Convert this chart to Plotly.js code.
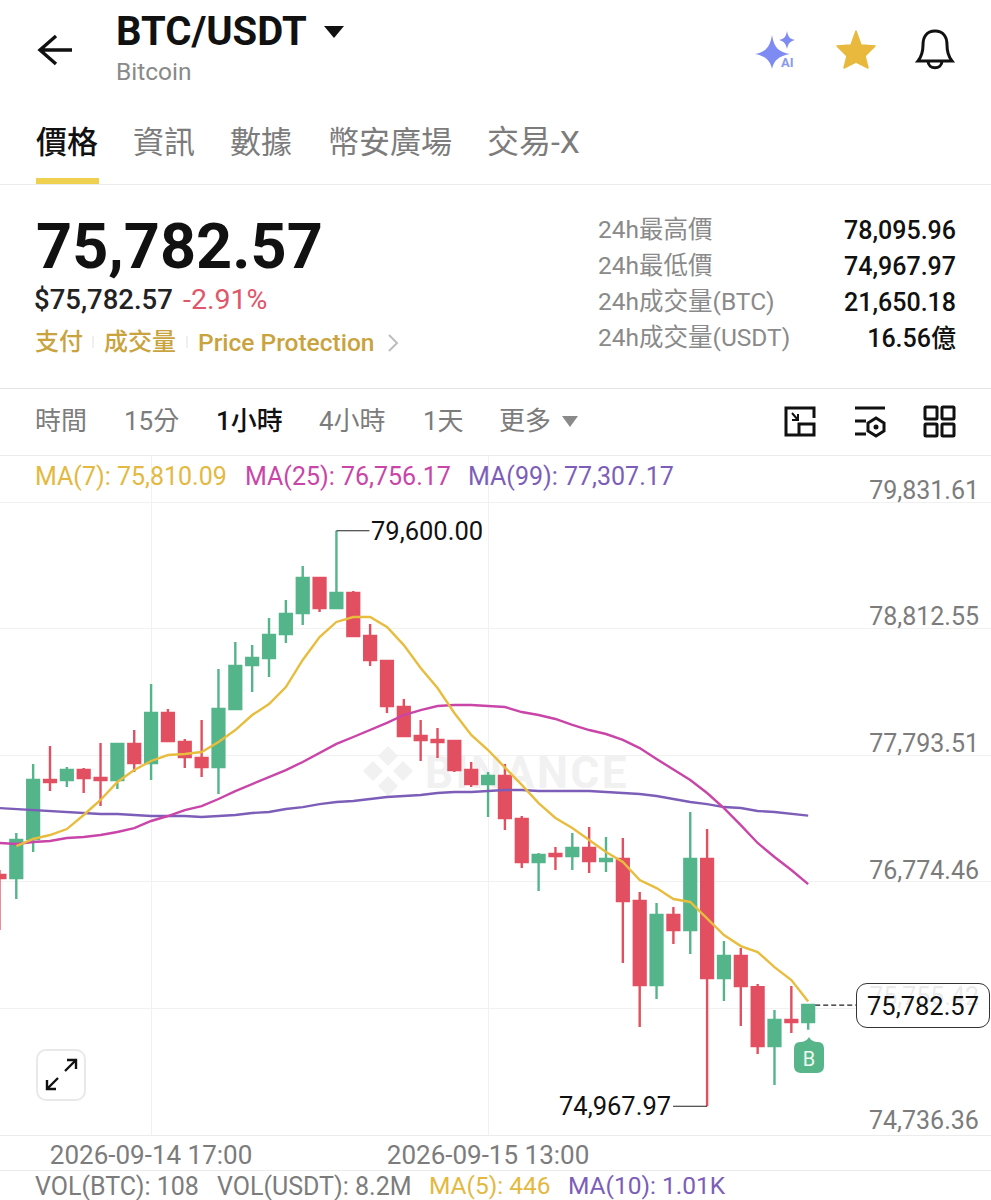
<!DOCTYPE html>
<html>
<head>
<meta charset="utf-8">
<script src="https://cdn.plot.ly/plotly-3.0.1.min.js"></script>
<style>
    html, body { margin: 0; padding: 0; background: #fff; }
    body { width: 991px; height: 1200px; position: relative; overflow: hidden;
           font-family: Roboto, "Noto Sans CJK TC", sans-serif; }
    #chart { position: absolute; left: 0; top: 0; width: 991px; height: 1200px; }
    .t { position: absolute; white-space: nowrap; transform: translateY(-50%); line-height: 1; }
    .rule { position: absolute; left: 0; width: 991px; height: 1px; background: #ececec; }
    svg.icon { position: absolute; overflow: visible; }
    #lastBox { position: absolute; left: 856px; top: 983px; width: 134px; height: 45px; box-sizing: border-box;
               border: 1.5px solid #333; border-radius: 11px; background: rgba(255,255,255,0.84);
               font-size: 25.5px; color: #111; text-align: center; line-height: 44px; }
    #watermark { position: absolute; left: 425px; top: 773px; transform: translateY(-50%);
                 font: bold 44px Roboto; letter-spacing: 2.5px; color: #f1f1f1; }
</style>
</head>
<body>
<svg class="icon" style="left:0;top:0" width="991" height="1200">
    <g fill="#f1f1f1" transform="translate(388,771)">
        <path d="M0,-25 L10,-15 L0,-5 L-10,-15 Z M-15,-10 L-5,0 L-15,10 L-25,0 Z M15,-10 L25,0 L15,10 L5,0 Z M0,5 L10,15 L0,25 L-10,15 Z"/>
    </g>
</svg>
<div id="watermark">BINANCE</div>
<div id="chart"></div>
<div id="lastBox">75,782.57</div>

<svg class="icon" style="left:0;top:0" width="991" height="1200">
    <!-- back arrow -->
    <path d="M72,50 H41 M56,36 L40,50 L56,64" fill="none" stroke="#111" stroke-width="3.4"/>
    <path d="M324,26 H344 L334,38 Z" fill="#111"/>
    <!-- AI sparkle -->
    <path d="M772,35 C774,48 779,52 790,54 C779,56 774,60 772,69 C770,60 765,56 755,54 C765,52 770,48 772,35 Z" fill="#7d8bf2"/>
    <path d="M787,31 C788,37 790,39 795,40 C790,41 788,44 787,49 C786,44 784,41 779,40 C784,39 786,37 787,31 Z" fill="#7d8bf2"/>
    <text x="781" y="67" font-family="Roboto" font-weight="700" font-size="13" fill="#8a98ee">AI</text>
    <!-- star -->
    <path d="M856,31 L861,45 L875,46 L865,56 L868,68 L856,62 L844,68 L847,56 L837,46 L851,45 Z" fill="#e8b93c" stroke="#e8b93c" stroke-width="1.5" stroke-linejoin="round"/>
    <!-- bell -->
    <path d="M935,31 C926,31 923,38 923,45 C923,52 922,56 918,61 H952 C948,56 947,52 947,45 C947,38 944,31 935,31 Z M928,61 C928,70 942,70 942,61" fill="none" stroke="#111" stroke-width="3"/>
    <!-- tab marker -->
    <rect x="36" y="178" width="63" height="6" fill="#f0d04f"/>
    <!-- separators, small arrow, triangle -->
    <path d="M93,336 V348 M187,336 V348" stroke="#ececec" stroke-width="1.5"/>
    <path d="M389,335 L397,343 L389,351" fill="none" stroke="#bdbdbd" stroke-width="2"/>
    <path d="M562,416 H578 L570,427 Z" fill="#8a8a8a"/>
    <!-- tool icons -->
    <g fill="none" stroke="#111" stroke-width="3">
        <path d="M800,408 H786 V435 H799 M800,408 H814 V418 M799,435 V424 H814 V435 H799"/>
        <path d="M792,413 L798,420 M798,414 V420 H792" stroke-width="2"/>
        <path d="M855,408 H885 M855,421 H866 M855,434 H866"/>
        <path d="M876,418 L884,423 V431 L876,436 L868,431 V423 Z"/>
        <rect x="925" y="407" width="12" height="12" rx="1"/>
        <rect x="942" y="407" width="12" height="12" rx="1"/>
        <rect x="925" y="424" width="12" height="12" rx="1"/>
        <rect x="942" y="424" width="12" height="12" rx="1"/>
    </g>
    <circle cx="876" cy="427" r="2.5" fill="#111"/>
    <!-- fullscreen button -->
    <rect x="37" y="1050" width="48" height="50" rx="9" fill="#fff" stroke="#e9e9e9" stroke-width="2"/>
    <path d="M76,1060 L47,1089 M67,1060 H76 V1069 M47,1080 V1089 H56" fill="none" stroke="#111" stroke-width="2.4"/>
    <path d="M58,1078 L65,1071" stroke="#fff" stroke-width="4"/>
    <!-- buy marker -->
    <path d="M809,1037 C811,1041 815,1042 818,1042 Q824,1042 824,1049 V1066 Q824,1073 817,1073 H801 Q794,1073 794,1066 V1049 Q794,1042 800,1042 C803,1042 807,1041 809,1037 Z" fill="#57b58a"/>
    <text x="809" y="1066" text-anchor="middle" font-family="Roboto" font-size="20" fill="#eefaf3">B</text>
</svg>

<div class="rule" style="top:184px"></div>
<div class="rule" style="top:388px;background:#e4e4e4"></div>
<div class="rule" style="top:455px"></div>
<div class="rule" style="top:1135px"></div>
<div class="rule" style="top:1170px"></div>

<script>
// 1h candles, 2026-09-14 08:00 to 2026-09-16 08:00
const times = [
    '2026-09-14 08:00', '2026-09-14 09:00', '2026-09-14 10:00', '2026-09-14 11:00', '2026-09-14 12:00',
    '2026-09-14 13:00', '2026-09-14 14:00', '2026-09-14 15:00', '2026-09-14 16:00', '2026-09-14 17:00',
    '2026-09-14 18:00', '2026-09-14 19:00', '2026-09-14 20:00', '2026-09-14 21:00', '2026-09-14 22:00',
    '2026-09-14 23:00', '2026-09-15 00:00', '2026-09-15 01:00', '2026-09-15 02:00', '2026-09-15 03:00',
    '2026-09-15 04:00', '2026-09-15 05:00', '2026-09-15 06:00', '2026-09-15 07:00', '2026-09-15 08:00',
    '2026-09-15 09:00', '2026-09-15 10:00', '2026-09-15 11:00', '2026-09-15 12:00', '2026-09-15 13:00',
    '2026-09-15 14:00', '2026-09-15 15:00', '2026-09-15 16:00', '2026-09-15 17:00', '2026-09-15 18:00',
    '2026-09-15 19:00', '2026-09-15 20:00', '2026-09-15 21:00', '2026-09-15 22:00', '2026-09-15 23:00',
    '2026-09-16 00:00', '2026-09-16 01:00', '2026-09-16 02:00', '2026-09-16 03:00', '2026-09-16 04:00',
    '2026-09-16 05:00', '2026-09-16 06:00', '2026-09-16 07:00', '2026-09-16 08:00'
];
const opens = [
    76829, 76805, 77119, 77594, 77594, 77674, 77610, 77594, 77884, 77731,
    78133, 77900, 77771, 77698, 78165, 78519, 78576, 78769, 78938, 79220,
    78978, 79099, 78753, 78552, 78181, 77948, 77916, 77908, 77674, 77562,
    77626, 77280, 76934, 76998, 76982, 77046, 76942, 76958, 76620, 75944,
    76507, 76386, 76958, 76000, 76177, 75927, 75452, 75662, 75646
];
const highs = [
    76869, 77167, 77722, 77867, 77698, 77690, 77892, 77884, 77996, 78367,
    78165, 77924, 78077, 78487, 78705, 78680, 78898, 79043, 79316, 79220,
    79600, 79115, 78849, 78560, 78246, 78077, 78012, 77908, 77739, 77658,
    77723, 77304, 77006, 77055, 77167, 77215, 77135, 77127, 76692, 76604,
    76572, 77336, 77199, 76297, 76241, 75952, 75742, 75935, 75790
];
const lows = [
    76386, 76636, 77014, 77505, 77537, 77489, 77384, 77521, 77658, 77594,
    77900, 77690, 77618, 77481, 78165, 78302, 78423, 78697, 78841, 78946,
    78978, 78745, 78511, 78133, 77940, 77747, 77771, 77658, 77537, 77296,
    77191, 76885, 76700, 76869, 76869, 76845, 76853, 76120, 75605, 75831,
    76273, 76193, 74967.97, 75815, 75613, 75388, 75138, 75557, 75584
];
const closes = [
    76805, 77111, 77594, 77578, 77674, 77610, 77594, 77884, 77731, 78133,
    77908, 77779, 77698, 78165, 78511, 78576, 78761, 78930, 79220, 78978,
    79099, 78753, 78560, 78189, 77948, 77916, 77900, 77674, 77562, 77626,
    77288, 76934, 76990, 76982, 77046, 76942, 76958, 76620, 75944, 76507,
    76386, 76958, 76000, 76177, 75935, 75452, 75662, 75646, 75782.57
];
const ma7 = [
    null, 77062, 77119, 77151, 77199, 77312, 77433, 77578, 77674, 77747,
    77795, 77803, 77819, 77900, 77996, 78117, 78205, 78342, 78560, 78745,
    78866, 78906, 78906, 78825, 78680, 78495, 78334, 78133, 77956, 77835,
    77698, 77554, 77408, 77288, 77207, 77111, 77014, 76934, 76789, 76724,
    76636, 76612, 76483, 76346, 76257, 76209, 76088, 75984, 75810.09
];
const ma25 = [
    77087, 77079, 77095, 77103, 77127, 77135, 77151, 77175, 77207, 77264,
    77304, 77352, 77384, 77441, 77505, 77562, 77618, 77674, 77739, 77811,
    77884, 77940, 77996, 78053, 78117, 78157, 78189, 78197, 78197, 78189,
    78181, 78141, 78117, 78085, 78037, 77996, 77964, 77916, 77851, 77763,
    77682, 77594, 77489, 77368, 77231, 77087, 76974, 76869, 76756.17
];
const ma99 = [
    77368, 77360, 77352, 77344, 77336, 77328, 77320, 77320, 77312, 77304,
    77304, 77304, 77296, 77304, 77312, 77328, 77336, 77360, 77376, 77400,
    77417, 77425, 77441, 77457, 77465, 77473, 77489, 77497, 77497, 77505,
    77513, 77513, 77505, 77505, 77505, 77505, 77497, 77489, 77481, 77465,
    77441, 77417, 77400, 77376, 77368, 77344, 77336, 77320, 77307.17
];
const priceTicks = [79831.61, 78812.55, 77793.51, 76774.46, 75755.42, 74736.36];
const timeTicks = ['2026-09-14 17:00', '2026-09-15 13:00'];

const lastPrice = 75782.57;
const highPrice = 79600;
const highTime = '2026-09-15 04:00';
const lowPrice = 74967.97;
const lowTime = '2026-09-16 02:00';

const GREEN = '#54b58a';
const RED = '#e24f60';
const GRID = '#f1f1f1';
const GRAY = '#7c7c7c';

const candles = {
    type: 'candlestick',
    x: times, open: opens, high: highs, low: lows, close: closes,
    increasing: { line: { color: GREEN, width: 2.4 }, fillcolor: GREEN },
    decreasing: { line: { color: RED, width: 2.4 }, fillcolor: RED },
    hoverinfo: 'skip', showlegend: false
};

function maLine(values, color) {
    return { type: 'scatter', mode: 'lines', x: times, y: values, line: { color: color, width: 2.4 }, hoverinfo: 'skip', showlegend: false };
}

const layout = {
    width: 991, height: 1200,
    margin: { l: 0, r: 0, t: 0, b: 0 },
    paper_bgcolor: 'rgba(0,0,0,0)',
    plot_bgcolor: 'rgba(0,0,0,0)',
    boxgap: 0.3,
    boxgroupgap: 0,
    showlegend: false,
    xaxis: {
        type: 'date',
        domain: [0, 1],
        range: ['2026-09-14 08:02', '2026-09-16 18:51'],
        rangeslider: { visible: false },
        tickmode: 'array', tickvals: timeTicks, tickformat: '%Y-%m-%d %H:%M',
        ticks: '', showline: false, zeroline: false,
        showgrid: true, gridcolor: GRID, gridwidth: 1,
        ticklabelstandoff: 2,
        tickfont: { family: 'Roboto', size: 26, color: GRAY }
    },
    yaxis: {
        domain: [65 / 1200, 745 / 1200],
        range: [74736.36, 80209.9],
        side: 'right',
        tickmode: 'array', tickvals: priceTicks, tickformat: ',.2f',
        ticklabelposition: 'inside', ticklabelshift: -12, ticklabelstandoff: 9,
        ticks: '', showline: false, zeroline: false,
        showgrid: true, gridcolor: GRID, gridwidth: 1,
        tickfont: { family: 'Roboto', size: 25, color: GRAY }
    },
    shapes: [{
        type: 'line', xref: 'x', yref: 'y',
        x0: '2026-09-16 08:25', x1: '2026-09-16 10:50', y0: lastPrice, y1: lastPrice,
        line: { color: '#222', width: 1.2, dash: '5px,3px' }
    }],
    annotations: [
        { x: highTime, y: highPrice, xref: 'x', yref: 'y', text: '79,600.00', showarrow: true, arrowhead: 0, arrowwidth: 1.2, arrowcolor: '#222',
          ax: 33, ay: 0, xanchor: 'left', yanchor: 'middle', font: { family: 'Roboto', size: 25.5, color: '#111' } },
        { x: lowTime, y: lowPrice, xref: 'x', yref: 'y', text: '74,967.97', showarrow: true, arrowhead: 0, arrowwidth: 1.2, arrowcolor: '#222',
          ax: -34, ay: 0, xanchor: 'right', yanchor: 'middle', font: { family: 'Roboto', size: 25.5, color: '#111' } },
        // plotly drops an inside tick label sitting on the axis end, so this one is placed by hand
        { x: 979 / 991, y: priceTicks[5], xref: 'paper', yref: 'y', text: '74,736.36', showarrow: false,
          xanchor: 'right', yanchor: 'middle', yshift: 15, xshift: 2, font: { family: 'Roboto', size: 25, color: GRAY } }
    ]
};

Plotly.newPlot('chart', [candles, maLine(ma99, '#7c5eb9'), maLine(ma25, '#c945a8'), maLine(ma7, '#e8bd3e')], layout, { displayModeBar: false, staticPlot: true });

// app chrome around the chart
const CJK = 'Roboto, "Noto Sans CJK TC", sans-serif';
const texts = [
    ['BTC/USDT', 116, 32, 40, '#111', 700],
    ['Bitcoin', 116, 72, 24.5, '#8a8a8a', 400],
    ['價格', 36, 142, 31, '#111', 500],
    ['資訊', 133, 142, 31, GRAY, 400],
    ['數據', 230, 142, 31, GRAY, 400],
    ['幣安廣場', 328, 142, 31, GRAY, 400],
    ['交易-X', 487, 142, 32, GRAY, 400],
    ['75,782.57', 36, 246, 63, '#111', 700],
    ['$75,782.57', 34, 300, 27.5, '#222', 500],
    ['-2.91%', 183, 300, 28.5, '#e0566a', 400],
    ['支付', 35, 342, 24, '#c9a33e', 500],
    ['成交量', 104, 342, 24, '#c9a33e', 500],
    ['Price Protection', 198, 343, 24.5, '#c9a33e', 500],
    ['24h最高價', 598, 230, 24.5, '#8a8a8a', 400],
    ['24h最低價', 598, 266, 24.5, '#8a8a8a', 400],
    ['24h成交量(BTC)', 598, 302, 24.5, '#8a8a8a', 400],
    ['24h成交量(USDT)', 598, 338, 24.5, '#8a8a8a', 400],
    ['時間', 35, 421, 26, GRAY, 400],
    ['15分', 124, 421, 26, GRAY, 400],
    ['1小時', 216, 421, 26, '#111', 500],
    ['4小時', 319, 421, 26, GRAY, 400],
    ['1天', 423, 421, 26, GRAY, 400],
    ['更多', 499, 421, 26, GRAY, 400],
    ['MA(7): 75,810.09', 35, 476, 25, '#e3b93f', 400],
    ['MA(25): 76,756.17', 245, 476, 25, '#c945a8', 400],
    ['MA(99): 77,307.17', 468, 476, 25, '#7c5eb9', 400],
    ['VOL(BTC): 108', 35, 1186, 25, GRAY, 400],
    ['VOL(USDT): 8.2M', 217, 1186, 25, GRAY, 400],
    ['MA(5): 446', 429, 1186, 24.5, '#e3b93f', 400],
    ['MA(10): 1.01K', 568, 1186, 24.5, '#7c5eb9', 400]
];
const rightTexts = [
    ['78,095.96', 956, 230], ['74,967.97', 956, 266], ['21,650.18', 956, 302], ['16.56億', 956, 338]
];

function addText(text, x, y, size, color, weight, alignRight) {
    const el = document.createElement('div');
    el.className = 't';
    el.textContent = text;
    el.style.top = y + 'px';
    if (alignRight) el.style.right = (991 - x) + 'px';
    else el.style.left = x + 'px';
    el.style.fontSize = size + 'px';
    el.style.color = color;
    el.style.fontWeight = weight;
    el.style.fontFamily = CJK;
    document.body.appendChild(el);
}
texts.forEach(t => addText(t[0], t[1], t[2], t[3], t[4], t[5], false));
rightTexts.forEach(t => addText(t[0], t[1], t[2], 25, '#111', 500, true));
</script>
</body>
</html>
